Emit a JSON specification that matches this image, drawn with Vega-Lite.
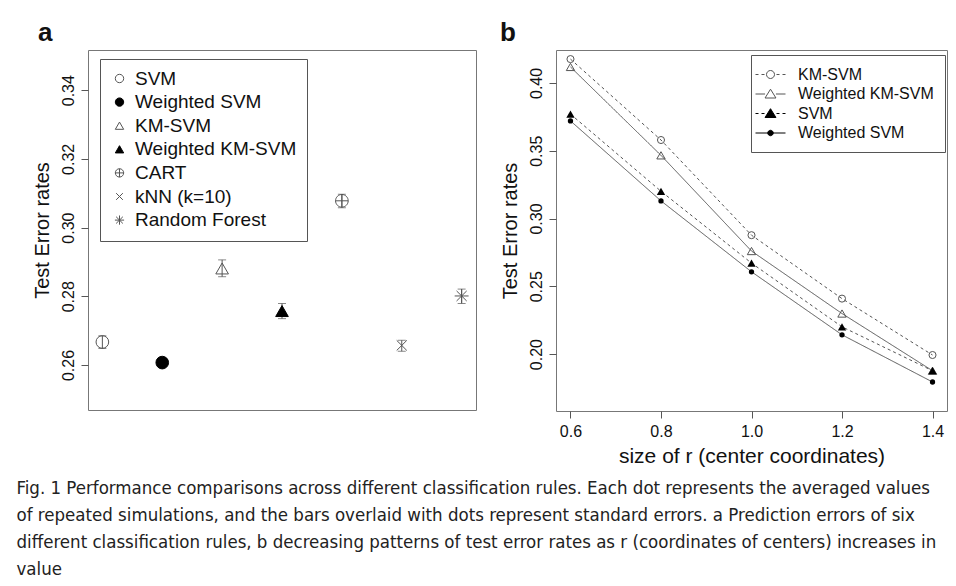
{
  "$schema": "https://vega.github.io/schema/vega-lite/v6.json",
  "background": "white",
  "padding": {"left": 16, "top": 19, "right": 8, "bottom": 2},
  "config": {
    "font": "Liberation Sans",
    "view": {"stroke": "#777", "strokeWidth": 1},
    "axis": {"grid": false, "domain": false, "tickColor": "#555", "tickSize": 7, "labelColor": "#111", "titleColor": "#111", "titleFontWeight": "normal", "labelFont": "Liberation Sans", "titleFont": "Liberation Sans"},
    "title": {"color": "#111"}
  },
  "title": {
    "text": [
      "Fig. 1  Performance comparisons across different classification rules. Each dot represents the averaged values",
      "of repeated simulations, and the bars overlaid with dots represent standard errors. a Prediction errors of six",
      "different classification rules, b decreasing patterns of test error rates as r (coordinates of centers) increases in",
      "value"
    ],
    "orient": "bottom",
    "anchor": "start",
    "frame": "bounds",
    "dx": -15,
    "font": "Liberation Sans Narrow, DejaVu Sans Condensed, Liberation Sans",
    "fontSize": 18.5,
    "fontWeight": "normal",
    "lineHeight": 27,
    "offset": 12,
    "color": "#222"
  },
  "spacing": 22,
  "resolve": {
    "scale": {"shape": "independent", "fill": "independent", "stroke": "independent", "strokeDash": "independent", "x": "independent", "y": "independent"},
    "legend": {"shape": "independent", "fill": "independent", "stroke": "independent", "strokeDash": "independent"}
  },
  "hconcat": [
    {
      "width": 388,
      "height": 360,
      "title": {"text": "a", "anchor": "start", "frame": "bounds", "fontSize": 26, "fontWeight": "bold", "offset": 4, "dx": 6},
      "data": {"values": [
        {"method": "SVM", "idx": 1, "err": 0.2667, "lo": 0.2648, "hi": 0.2685},
        {"method": "Weighted SVM", "idx": 2, "err": 0.2607, "lo": 0.2601, "hi": 0.2613},
        {"method": "KM-SVM", "idx": 3, "err": 0.2881, "lo": 0.2857, "hi": 0.2906},
        {"method": "Weighted KM-SVM", "idx": 4, "err": 0.2757, "lo": 0.2735, "hi": 0.2779},
        {"method": "CART", "idx": 5, "err": 0.3078, "lo": 0.3058, "hi": 0.3097},
        {"method": "kNN (k=10)", "idx": 6, "err": 0.2657, "lo": 0.2640, "hi": 0.2672},
        {"method": "Random Forest", "idx": 7, "err": 0.2801, "lo": 0.2779, "hi": 0.2821}
      ]},
      "encoding": {
        "x": {"field": "idx", "type": "quantitative", "scale": {"domain": [0.76, 7.24], "nice": false, "zero": false}, "axis": null}
      },
      "layer": [
        {
          "mark": {"type": "rule", "color": "#555", "strokeWidth": 1},
          "encoding": {
            "y": {"field": "lo", "type": "quantitative", "scale": {"domain": [0.2469, 0.3517], "nice": false, "zero": false},
              "axis": {"title": "Test Error rates", "values": [0.26, 0.28, 0.3, 0.32, 0.34], "format": ".2f", "labelAngle": 270, "labelFontSize": 16, "labelPadding": 5, "titleFontSize": 20, "titlePadding": 8}},
            "y2": {"field": "hi"}
          }
        },
        {
          "mark": {"type": "tick", "orient": "horizontal", "size": 8, "thickness": 1, "color": "#555"},
          "encoding": {"y": {"field": "lo", "type": "quantitative"}}
        },
        {
          "mark": {"type": "tick", "orient": "horizontal", "size": 8, "thickness": 1, "color": "#555"},
          "encoding": {"y": {"field": "hi", "type": "quantitative"}}
        },
        {
          "mark": {"type": "point", "filled": true, "opacity": 1, "size": 160, "strokeWidth": 1},
          "encoding": {
            "y": {"field": "err", "type": "quantitative"},
            "shape": {"field": "method", "type": "nominal",
              "scale": {"domain": ["SVM", "Weighted SVM", "KM-SVM", "Weighted KM-SVM", "CART", "kNN (k=10)", "Random Forest"],
                "range": ["circle", "circle", "triangle-up", "triangle-up", "M-1,0A1,1,0,1,1,1,0A1,1,0,1,1,-1,0ZM-1,0L1,0M0,-1L0,1", "M-0.8,-0.8L0.8,0.8M-0.8,0.8L0.8,-0.8", "M-0.8,-0.8L0.8,0.8M-0.8,0.8L0.8,-0.8M-1.1,0L1.1,0M0,-1.1L0,1.1"]},
              "legend": {
                "title": null, "orient": "none", "legendX": 12, "legendY": 9,
                "strokeColor": "#555", "fillColor": "white", "padding": 10,
                "labelFontSize": 19, "labelFont": "Liberation Sans", "labelColor": "#111", "labelOffset": 6, "labelLimit": 400,
                "symbolSize": 70, "symbolStrokeWidth": 1, "rowPadding": 3.6
              }
            },
            "fill": {"field": "method", "type": "nominal",
              "scale": {"domain": ["SVM", "Weighted SVM", "KM-SVM", "Weighted KM-SVM", "CART", "kNN (k=10)", "Random Forest"],
                "range": ["transparent", "black", "transparent", "black", "transparent", "transparent", "transparent"]},
              "legend": null},
            "stroke": {"field": "method", "type": "nominal",
              "scale": {"domain": ["SVM", "Weighted SVM", "KM-SVM", "Weighted KM-SVM", "CART", "kNN (k=10)", "Random Forest"],
                "range": ["#555", "black", "#555", "black", "#555", "#555", "#555"]},
              "legend": null}
          }
        }
      ]
    },
    {
      "width": 391,
      "height": 361,
      "title": {"text": "b", "anchor": "start", "frame": "bounds", "fontSize": 26, "fontWeight": "bold", "offset": 4, "dx": 0},
      "data": {"values": [
        {"model": "KM-SVM", "r": 0.6, "err": 0.4176},
        {"model": "KM-SVM", "r": 0.8, "err": 0.3579},
        {"model": "KM-SVM", "r": 1.0, "err": 0.2877},
        {"model": "KM-SVM", "r": 1.2, "err": 0.2409},
        {"model": "KM-SVM", "r": 1.4, "err": 0.1993},
        {"model": "Weighted KM-SVM", "r": 0.6, "err": 0.4118},
        {"model": "Weighted KM-SVM", "r": 0.8, "err": 0.3466},
        {"model": "Weighted KM-SVM", "r": 1.0, "err": 0.2760},
        {"model": "Weighted KM-SVM", "r": 1.2, "err": 0.2299},
        {"model": "Weighted KM-SVM", "r": 1.4, "err": 0.1877},
        {"model": "SVM", "r": 0.6, "err": 0.3770},
        {"model": "SVM", "r": 0.8, "err": 0.3201},
        {"model": "SVM", "r": 1.0, "err": 0.2671},
        {"model": "SVM", "r": 1.2, "err": 0.2201},
        {"model": "SVM", "r": 1.4, "err": 0.1877},
        {"model": "Weighted SVM", "r": 0.6, "err": 0.3720},
        {"model": "Weighted SVM", "r": 0.8, "err": 0.3130},
        {"model": "Weighted SVM", "r": 1.0, "err": 0.2607},
        {"model": "Weighted SVM", "r": 1.2, "err": 0.2142},
        {"model": "Weighted SVM", "r": 1.4, "err": 0.1794}
      ]},
      "encoding": {
        "x": {"field": "r", "type": "quantitative", "scale": {"domain": [0.568, 1.432], "nice": false, "zero": false},
          "axis": {"title": "size of r (center coordinates)", "values": [0.6, 0.8, 1.0, 1.2, 1.4], "format": ".1f", "labelFontSize": 16, "labelPadding": 5, "titleFontSize": 21, "titlePadding": 6}},
        "y": {"field": "err", "type": "quantitative", "scale": {"domain": [0.158, 0.4243], "nice": false, "zero": false},
          "axis": {"title": "Test Error rates", "values": [0.2, 0.25, 0.3, 0.35, 0.4], "format": ".2f", "labelAngle": 270, "labelFontSize": 16, "labelPadding": 5, "titleFontSize": 20, "titlePadding": 8}}
      },
      "layer": [
        {
          "mark": {"type": "line", "color": "#555", "strokeWidth": 1},
          "encoding": {
            "strokeDash": {"field": "model", "type": "nominal",
              "scale": {"domain": ["SVM", "Weighted SVM", "KM-SVM", "Weighted KM-SVM"], "range": [[3, 3], [1, 0], [3, 3], [1, 0]]},
              "legend": null}
          }
        },
        {
          "transform": [{"filter": "datum.model === 'KM-SVM'"}],
          "mark": {"type": "point", "shape": "circle", "filled": false, "color": "#555", "opacity": 1, "strokeWidth": 1, "size": 50},
          "encoding": {}
        },
        {
          "transform": [{"filter": "datum.model === 'Weighted KM-SVM'"}],
          "mark": {"type": "point", "shape": "triangle-up", "filled": false, "color": "#555", "opacity": 1, "strokeWidth": 1, "size": 70},
          "encoding": {}
        },
        {
          "transform": [{"filter": "datum.model === 'SVM'"}],
          "mark": {"type": "point", "shape": "triangle-up", "filled": true, "color": "black", "opacity": 1, "size": 70},
          "encoding": {}
        },
        {
          "transform": [{"filter": "datum.model === 'Weighted SVM'"}],
          "mark": {"type": "point", "shape": "circle", "filled": true, "color": "black", "opacity": 1, "size": 28},
          "encoding": {}
        },
        {
          "transform": [{"filter": "false"}],
          "mark": {"type": "point", "filled": true, "opacity": 1, "strokeWidth": 1},
          "encoding": {
            "shape": {"field": "model", "type": "nominal",
              "scale": {"domain": ["KM-SVM", "Weighted KM-SVM", "SVM", "Weighted SVM"],
                "range": [
                  "M-1.875,0L-1.5,0M-1.125,0L-0.75,0M-0.5,0A0.5,0.5,0,1,1,0.5,0A0.5,0.5,0,1,1,-0.5,0ZM0.75,0L1.125,0M1.5,0L1.875,0",
                  "M-1.875,0L-0.68,0M0.68,0L1.875,0M0,-0.6L0.68,0.5L-0.68,0.5Z",
                  "M-1.875,0L-1.5,0M-1.125,0L-0.75,0M0,-0.6L0.68,0.5L-0.68,0.5ZM0.75,0L1.125,0M1.5,0L1.875,0",
                  "M-1.875,0L1.875,0M-0.34,0A0.34,0.34,0,1,1,0.34,0A0.34,0.34,0,1,1,-0.34,0Z"
                ]},
              "legend": {
                "title": null, "orient": "none", "legendX": 195, "legendY": 5,
                "strokeColor": "#555", "fillColor": "white", "padding": 11,
                "labelFontSize": 16, "labelFont": "Liberation Sans", "labelColor": "#111", "labelOffset": 19, "labelLimit": 400,
                "symbolSize": 256, "symbolStrokeWidth": 1, "rowPadding": 2.5
              }
            },
            "fill": {"field": "model", "type": "nominal",
              "scale": {"domain": ["KM-SVM", "Weighted KM-SVM", "SVM", "Weighted SVM"], "range": ["transparent", "transparent", "black", "black"]},
              "legend": null},
            "stroke": {"field": "model", "type": "nominal",
              "scale": {"domain": ["KM-SVM", "Weighted KM-SVM", "SVM", "Weighted SVM"], "range": ["#555", "#555", "black", "black"]},
              "legend": null}
          }
        }
      ]
    }
  ]
}
